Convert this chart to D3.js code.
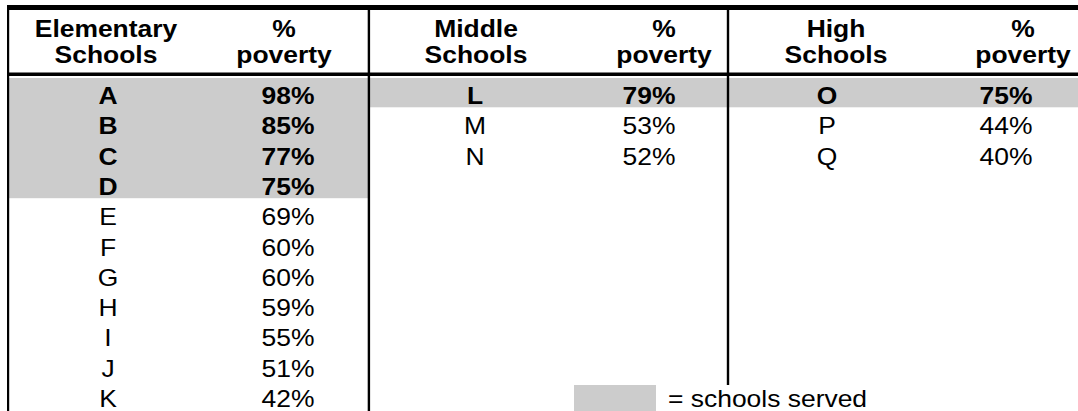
<!DOCTYPE html>
<html>
<head>
<meta charset="utf-8">
<script src="https://cdn.jsdelivr.net/npm/d3@7"></script>
<style>
  html, body { margin: 0; padding: 0; background: #fff; overflow: hidden; }
  svg text { font-family: "Liberation Sans", Arial, sans-serif; font-size: 23px; fill: #000; }
</style>
</head>
<body>
<svg id="chart" width="1078" height="411"></svg>
<script>
// table data
const elemSchools = ["A", "B", "C", "D", "E", "F", "G", "H", "I", "J", "K"];
const elemPoverty = [98, 85, 77, 75, 69, 60, 60, 59, 55, 51, 42];
const middleSchools = ["L", "M", "N"];
const middlePoverty = [79, 53, 52];
const highSchools = ["O", "P", "Q"];
const highPoverty = [75, 44, 40];
const servedCount = [4, 1, 1]; // top rows of each group that are served
const groupTitles = ["Elementary", "Middle", "High"];
const legendLabel = "= schools served";

const groups = [
  { title: groupTitles[0], names: elemSchools, vals: elemPoverty, served: servedCount[0],
    x0: 8, x1: 368, nameX: 108, headX: 106, pctHeadX: 284, pctX: 288 },
  { title: groupTitles[1], names: middleSchools, vals: middlePoverty, served: servedCount[1],
    x0: 368, x1: 728, nameX: 475, headX: 476, pctHeadX: 664, pctX: 649 },
  { title: groupTitles[2], names: highSchools, vals: highPoverty, served: servedCount[2],
    x0: 728, x1: 1078, nameX: 827, headX: 836, pctHeadX: 1023, pctX: 1006 }
];

const svg = d3.select("#chart");
const shade = "#cccccc";
const sx = 1.15; // the source text is a bit wide

// row index -> row top
const y = d3.scaleLinear().domain([0, 1]).range([78, 108.3]);

function label(g, x, yy, t, bold) {
  g.append("text")
    .attr("transform", `translate(${x},${yy}) scale(${sx},1)`)
    .attr("text-anchor", "middle")
    .attr("font-weight", bold ? "bold" : "normal")
    .text(t);
}

// shading of served rows
groups.forEach(gr => {
  svg.append("rect")
    .attr("x", gr.x0 + 1)
    .attr("y", y(0))
    .attr("width", gr.x1 - gr.x0 - 1)
    .attr("height", y(gr.served) - y(0) - 1)
    .attr("fill", shade);
});

// legend swatch
svg.append("rect").attr("x", 574).attr("y", 385).attr("width", 82).attr("height", 30).attr("fill", shade);

// rules
svg.append("rect").attr("x", 7).attr("y", 5).attr("width", 1071).attr("height", 5).attr("fill", "#000");
svg.append("rect").attr("x", 7).attr("y", 72.5).attr("width", 1071).attr("height", 3.5).attr("fill", "#000");
svg.append("rect").attr("x", 7).attr("y", 5).attr("width", 2.2).attr("height", 406).attr("fill", "#000");
svg.append("rect").attr("x", 367.7).attr("y", 5).attr("width", 2.4).attr("height", 406).attr("fill", "#000");
svg.append("rect").attr("x", 726.8).attr("y", 5).attr("width", 2.4).attr("height", 380).attr("fill", "#000");

// text
const tg = svg.append("g");
groups.forEach(gr => {
  label(tg, gr.headX, 37, gr.title, true);
  label(tg, gr.headX, 63, "Schools", true);
  label(tg, gr.pctHeadX, 37, "%", true);
  label(tg, gr.pctHeadX, 63, "poverty", true);
  gr.names.forEach((n, i) => {
    const b = i < gr.served;
    label(tg, gr.nameX, y(i) + 26, n, b);
    label(tg, gr.pctX, y(i) + 26, gr.vals[i] + "%", b);
  });
});

tg.append("text")
  .attr("transform", `translate(668,${y(10) + 26}) scale(${sx},1)`)
  .text(legendLabel);
</script>
</body>
</html>
